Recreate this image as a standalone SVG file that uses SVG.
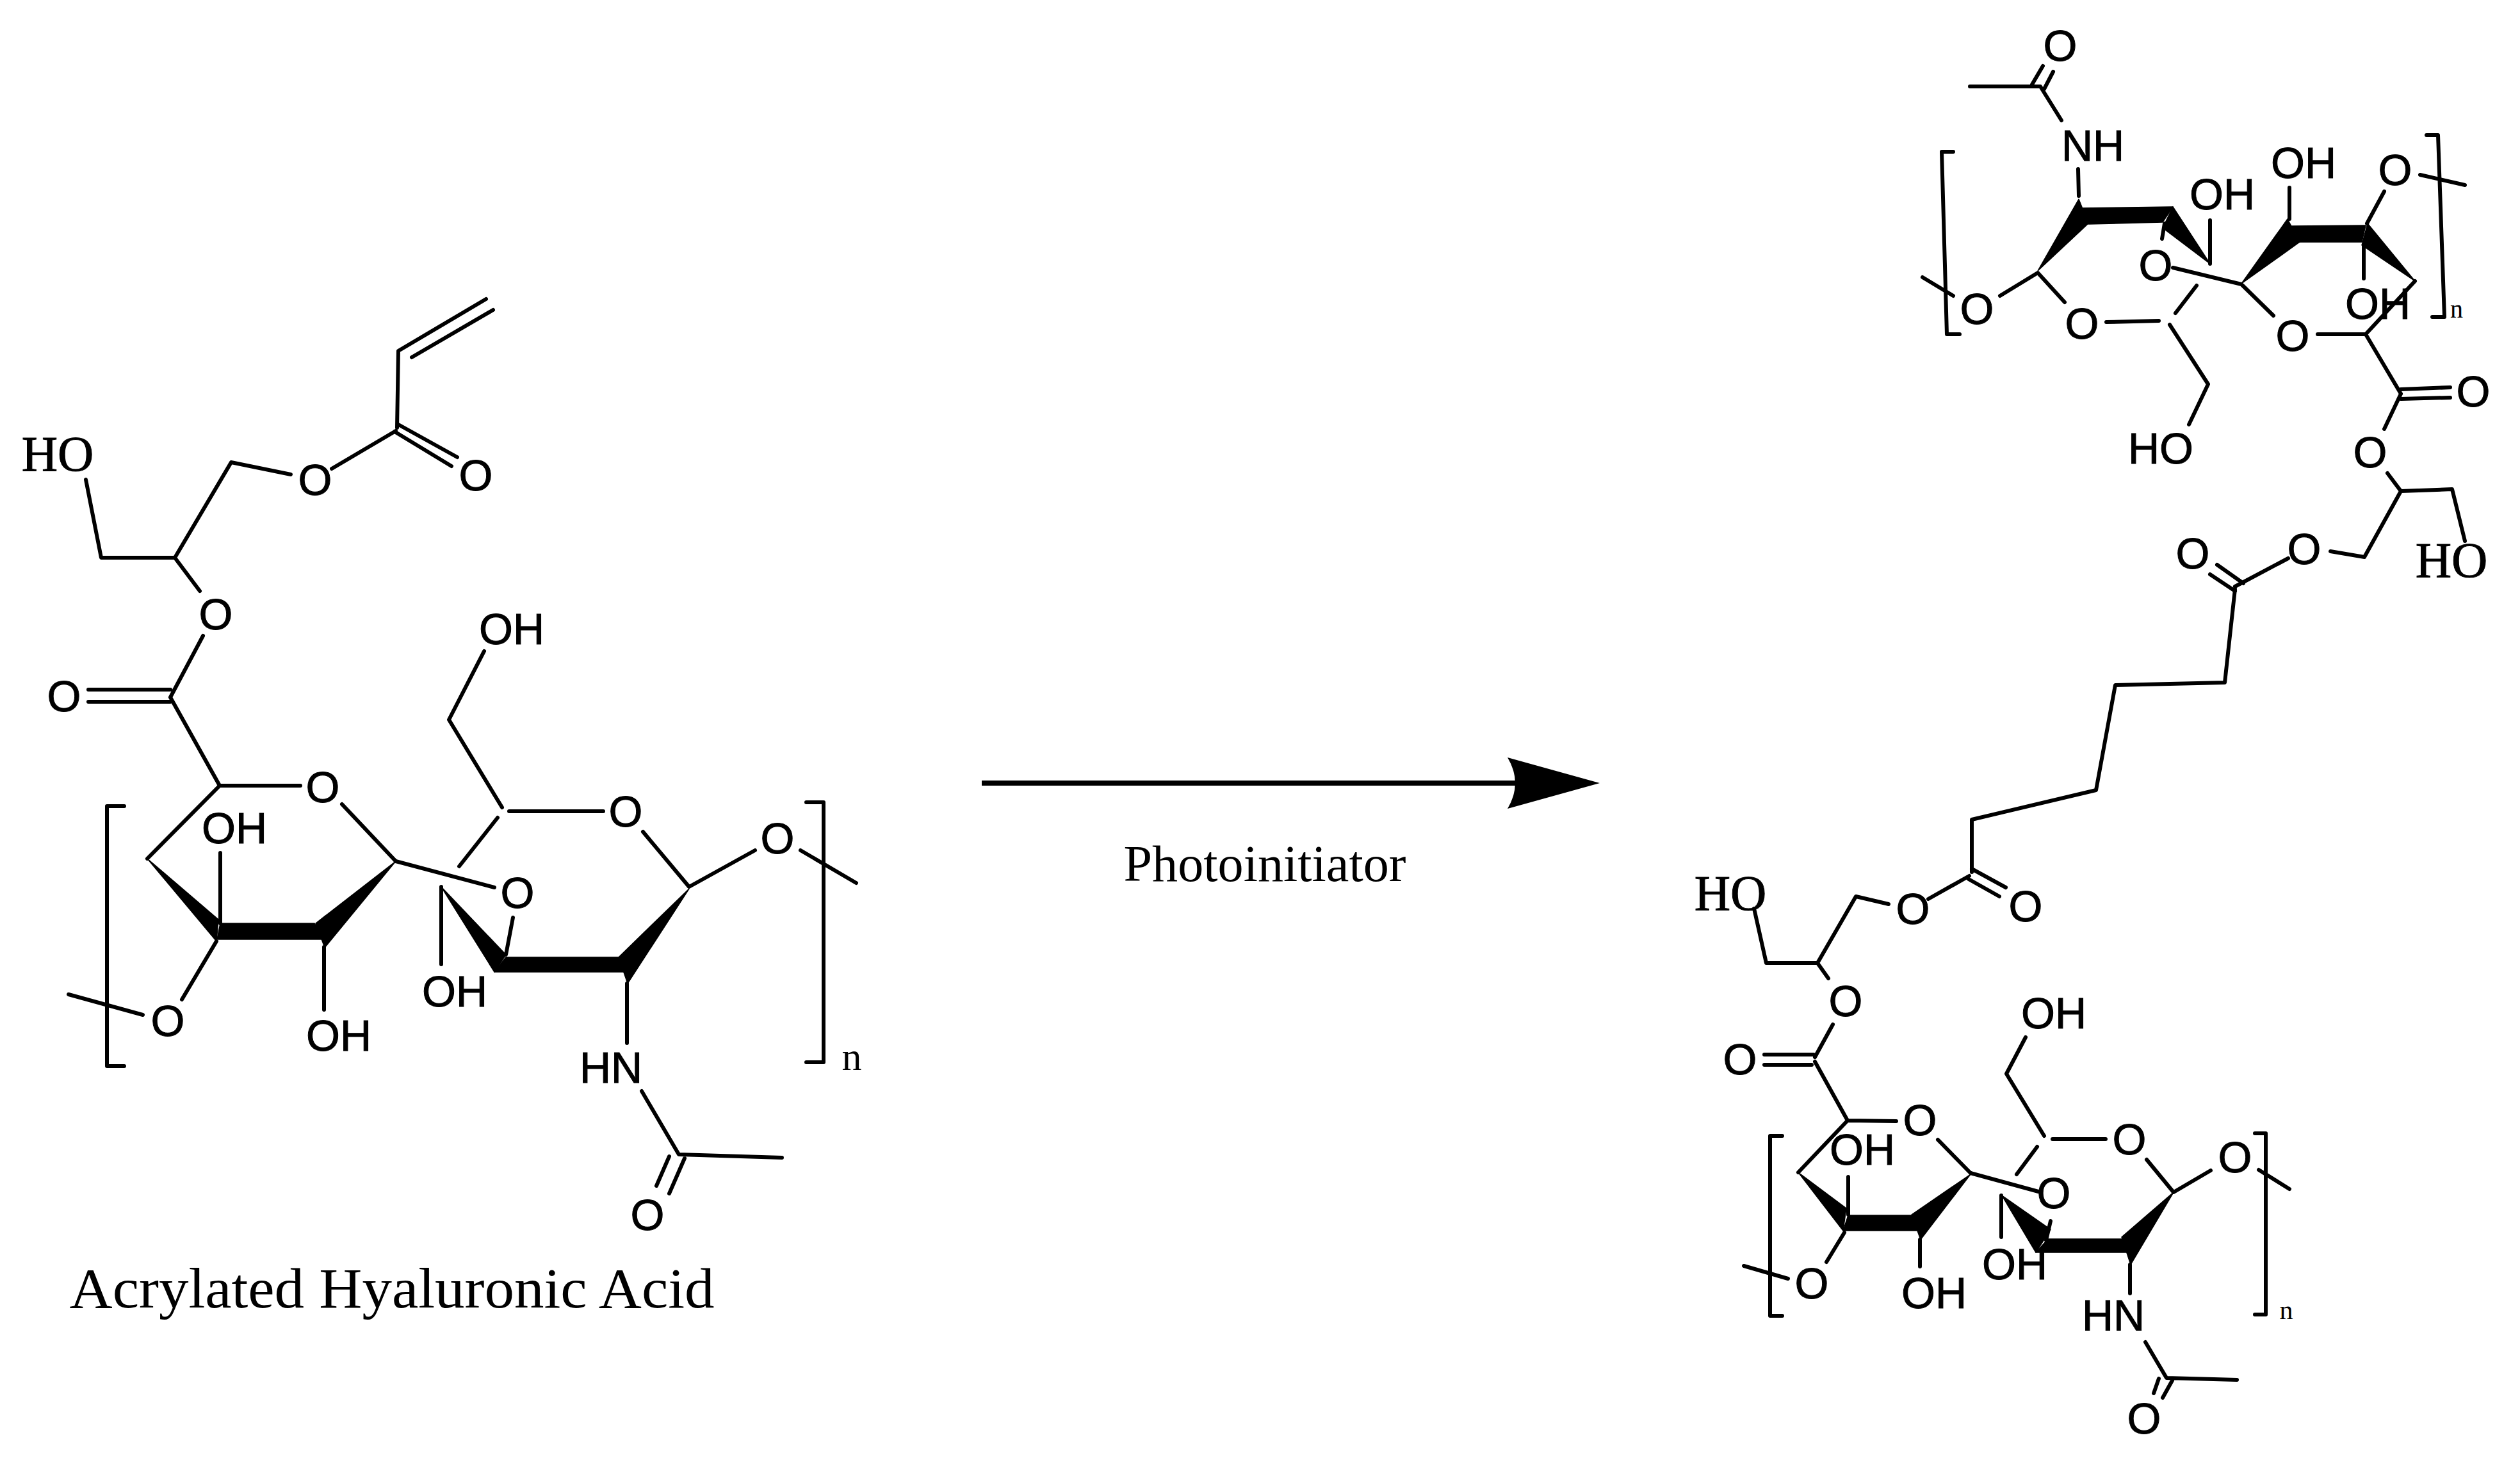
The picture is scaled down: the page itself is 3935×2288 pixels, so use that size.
<svg xmlns="http://www.w3.org/2000/svg" width="3935" height="2288" viewBox="0 0 3935 2288">
<style>
.b{fill:none;stroke:#000;stroke-width:6;stroke-linecap:round;stroke-linejoin:round}
.k{fill:#000;stroke:#000;stroke-width:1.5;stroke-linejoin:round}
text{fill:#000;text-anchor:middle}
.a,.c{font-family:"Liberation Sans",Arial,sans-serif;font-size:68px;stroke:#000;stroke-width:1}
.s{font-family:"Liberation Serif","Times New Roman",serif;font-size:78px;stroke:#000;stroke-width:1}
.t{font-family:"Liberation Serif","Times New Roman",serif}
</style>
<defs>
<marker id="head" markerUnits="userSpaceOnUse" viewBox="0 0 144 80" refX="20" refY="40" markerWidth="144" markerHeight="80" orient="auto">
<path d="M0 0L144 40L0 80Q24 40 0 0Z" fill="#000"/>
</marker>
</defs>
<rect width="3935" height="2288" fill="#fff"/>

<g id="connectors">
<line x1="1533" y1="1223" x2="2374" y2="1223" stroke="#000" stroke-width="8" marker-end="url(#head)"/>
</g>

<g id="acrylated-hyaluronic-acid">
<path class="b" d="M759 467L622 548L620 668M643 558L770 484M622 663L714 714M616 674L705 728M618 673L518 732"/>
<path class="b" d="M134 749L158 871L273 871L361 722L454 741M273 871L312 923M317 993L266 1089M138 1077H266M138 1096H266M266 1089L343 1227L469 1227M534 1256L618 1345"/>
<path class="b" d="M343 1227L230 1341"/>
<path class="b" d="M756 1017L701 1124L784 1261M795 1267H942M1004 1299L1076 1385L1179 1328M777 1277L717 1353M1250 1328L1337 1379"/>
<path class="b" d="M194 1259H167V1665H194M1259 1253H1286V1659H1259"/>
<path class="b" d="M344 1332V1442M338 1470L284 1561M107 1553L223 1585M506 1479V1577M618 1345L772 1386M801 1433L790 1491M689 1385V1506M979 1536V1629M1002 1704L1060 1803L1221 1808M1045 1806L1025 1852M1069 1809L1045 1864"/>
<polygon class="k" points="230,1341 341,1436 338,1470"/>
<polygon class="k" points="344,1442 491,1442 507,1467 339,1467"/>
<polygon class="k" points="618,1345 493,1442 507,1480"/>
<polygon class="k" points="689,1385 790,1491 772,1518"/>
<polygon class="k" points="790,1495 966,1495 980,1518 772,1518"/>
<polygon class="k" points="1076,1388 966,1495 980,1536"/>
<text class="s" x="90" y="735">HO</text>
<text class="a" x="492" y="773">O</text>
<text class="a" x="743" y="766">O</text>
<text class="a" x="337" y="983">O</text>
<text class="a" x="100" y="1111">O</text>
<text class="a" x="799" y="1006">OH</text>
<text class="a" x="504" y="1253">O</text>
<text class="a" x="977" y="1291">O</text>
<text class="a" x="1214" y="1333">O</text>
<text class="a" x="366" y="1317">OH</text>
<text class="a" x="808" y="1418">O</text>
<text class="a" x="262" y="1618">O</text>
<text class="a" x="529" y="1641">OH</text>
<text class="a" x="710" y="1572">OH</text>
<text class="a" x="954" y="1691">HN</text>
<text class="a" x="1011" y="1921">O</text>
<text class="t" x="1330" y="1671" font-size="62">n</text>
<text class="t" x="612" y="2042" font-size="88" textLength="1007" lengthAdjust="spacingAndGlyphs">Acrylated Hyaluronic Acid</text>
</g>

<text id="photoinitiator" class="t" x="1975" y="1376" font-size="80" textLength="441" lengthAdjust="spacingAndGlyphs">Photoinitiator</text>

<g id="crosslinked-top">
<path class="b" d="M3190 103L3173 132M3206 112L3192 139M3076 135H3186L3219 188M3245 264L3246 306M3451 344V412M3380 349L3376 373M3393 418L3500 444M3575 293V342M3723 299L3696 349M3779 273L3849 289M3691 383V435M3771 439L3694 522L3619 522M3550 493L3500 444M3694 522L3749 615M3749 608L3826 605M3749 623L3826 621M3749 615L3723 670"/>
<path class="b" d="M3050 237H3032L3040 522H3060M3789 211H3807L3817 495H3798"/>
<path class="b" d="M3002 433L3050 462M3123 462L3182 426L3224 472M3289 503L3371 501M3430 446L3397 489M3388 507L3448 600L3418 663"/>
<polygon class="k" points="3182,423 3246,311 3261,349"/>
<polygon class="k" points="3248,325 3393,323 3377,347 3261,350"/>
<polygon class="k" points="3451,412 3393,323 3377,356"/>
<polygon class="k" points="3500,443 3572,342 3591,378"/>
<polygon class="k" points="3578,353 3694,352 3688,378 3591,378"/>
<polygon class="k" points="3771,439 3697,349 3688,383"/>
<text class="c" x="3217" y="95">O</text>
<text class="c" x="3268" y="251">NH</text>
<text class="c" x="3470" y="327">OH</text>
<text class="c" x="3366" y="438">O</text>
<text class="c" x="3597" y="278">OH</text>
<text class="c" x="3740" y="289">O</text>
<text class="c" x="3713" y="498">OH</text>
<text class="c" x="3580" y="548">O</text>
<text class="c" x="3862" y="635">O</text>
<text class="c" x="3087" y="506">O</text>
<text class="c" x="3251" y="529">O</text>
<text class="c" x="3374" y="724">HO</text>
<text class="c" x="3701" y="730">O</text>
<text class="t" x="3836" y="496" font-size="40">n</text>
</g>

<g id="crosslinker">
<path class="b" d="M3728 739L3749 767L3829 764L3849 845M3749 767L3692 870L3639 861M3573 872L3490 916M3462 882L3503 911M3451 897L3490 923"/>
<path class="b" d="M3490 920L3474 1066L3303 1070L3273 1234L3079 1280L3079 1362M3079 1357L3132 1386M3074 1373L3122 1400M3075 1368L3011 1404M2949 1412L2898 1400L2838 1504L2758 1504L2739 1419M2838 1504L2855 1528"/>
<text class="s" x="3828" y="901">HO</text>
<text class="a" x="3598" y="881">O</text>
<text class="a" x="3424" y="888">O</text>
<text class="a" x="3163" y="1439">O</text>
<text class="a" x="2987" y="1443">O</text>
<text class="s" x="2702" y="1421">HO</text>
</g>

<g id="crosslinked-bottom">
<path class="b" d="M2862 1600L2834 1651M2755 1647H2832M2755 1663H2829M2834 1658L2885 1750L2961 1751M3026 1780L3077 1832M2885 1750L2808 1831M2886 1838V1897M2998 1936V1978M2880 1925L2852 1971M2723 1977L2792 1997"/>
<path class="b" d="M2783 1774H2764V2055H2783M3521 1770H3538V2053H3521"/>
<path class="b" d="M3077 1832L3183 1861M3202 1907L3195 1937M3125 1867V1932M3326 1975V2020M3350 2096L3383 2152L3493 2155M3371 2153L3363 2176M3392 2156L3377 2183M3163 1620L3133 1677L3192 1774M3205 1779H3288M3352 1811L3394 1862L3452 1828M3181 1791L3149 1834M3527 1827L3575 1857"/>
<polygon class="k" points="2808,1831 2883,1887 2878,1922"/>
<polygon class="k" points="2886,1898 2985,1898 2999,1922 2878,1922"/>
<polygon class="k" points="3077,1834 2985,1897 2999,1936"/>
<polygon class="k" points="3126,1867 3202,1920 3179,1956"/>
<polygon class="k" points="3198,1935 3313,1935 3326,1956 3179,1956"/>
<polygon class="k" points="3394,1862 3313,1932 3327,1975"/>
<text class="c" x="2882" y="1587">O</text>
<text class="c" x="2717" y="1678">O</text>
<text class="c" x="2998" y="1773">O</text>
<text class="c" x="2908" y="1819">OH</text>
<text class="c" x="3020" y="2043">OH</text>
<text class="c" x="2829" y="2028">O</text>
<text class="c" x="3207" y="1887">O</text>
<text class="c" x="3146" y="1998">OH</text>
<text class="c" x="3300" y="2078">HN</text>
<text class="c" x="3348" y="2239">O</text>
<text class="c" x="3207" y="1606">OH</text>
<text class="c" x="3325" y="1803">O</text>
<text class="c" x="3490" y="1831">O</text>
<text class="t" x="3570" y="2060" font-size="42">n</text>
</g>
</svg>
